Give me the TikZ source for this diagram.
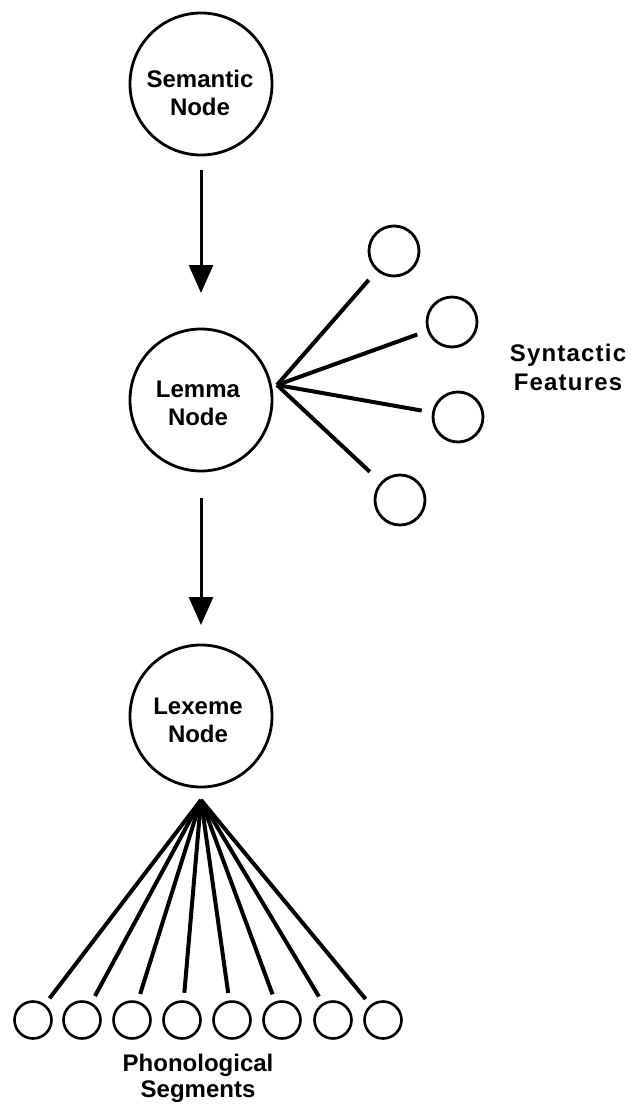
\documentclass[tikz,border=0pt]{standalone}
\usepackage{fontspec}
\setmainfont{Liberation Sans}
\usetikzlibrary{arrows.meta}
\begin{document}
\begin{tikzpicture}[x=1pt,y=-1pt,
  bigc/.style={circle,draw,line width=2.8pt,minimum size=142pt,inner sep=0pt},
  smallc/.style={circle,draw,line width=2.8pt,minimum size=50pt,inner sep=0pt},
  segc/.style={circle,draw,line width=2.6pt,minimum size=37pt,inner sep=0pt},
  lbl/.style={font=\bfseries\fontsize{24}{28}\selectfont,align=center,inner sep=0pt},
  fan/.style={line width=4pt},
  arr/.style={line width=3pt,-{Triangle[length=28pt,width=24pt]}}]
\useasboundingbox (0,0) rectangle (639,1105);
% main nodes
\node[bigc] (sem) at (201,84) {};
\node[lbl] (semt) at (200,93) {Semantic\\Node};
\node[bigc] (lem) at (201,400) {};
\node[lbl] (lemt) at (198,403) {Lemma\\Node};
\node[bigc] (lex) at (201,716) {};
\node[lbl] (lext) at (198,720) {Lexeme\\Node};
% arrows
\draw[arr,shorten <=13.6pt,shorten >=34.6pt] (sem) -- (lem);
\draw[arr,shorten <=25.6pt,shorten >=18.6pt] (lem) -- (lex);
% syntactic features
\coordinate (fa) at (277,385);
\node[smallc] (f1) at (394,251) {};
\node[smallc] (f2) at (452,322) {};
\node[smallc] (f3) at (458,417) {};
\node[smallc] (f4) at (400,500) {};
\draw[fan,shorten >=12pt] (fa) -- (f1);
\draw[fan,shorten >=10.5pt] (fa) -- (f2);
\draw[fan,shorten >=10.5pt] (fa) -- (f3);
\draw[fan,shorten >=15pt] (fa) -- (f4);
\node[lbl,font=\bfseries\fontsize{24}{29}\selectfont\addfontfeature{LetterSpace=5}] (synt) at (568,367) {Syntactic\\Features};
% phonological segments
\coordinate (la) at (201,800);
\foreach \i/\x in {1/33,2/82,3/132,4/182,5/232,6/282,7/333,8/383}{
  \node[segc] (s\i) at (\x,1020) {};
  \draw[fan,shorten >=7.5pt] (la) -- (s\i);
}
\node[lbl,font=\bfseries\fontsize{24}{26}\selectfont] (phont) at (198,1078) {Phonological\\Segments};
\end{tikzpicture}
\end{document}
